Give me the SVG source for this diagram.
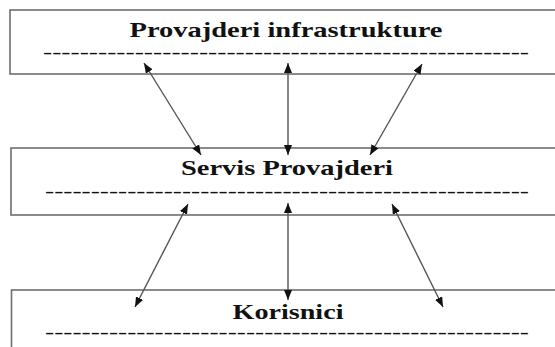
<svg xmlns="http://www.w3.org/2000/svg" width="555" height="347" viewBox="0 0 555 347">
  <style>
    .box { fill: #ffffff; stroke: #6e6e6e; stroke-width: 1.6; }
    .title { font-family: "Liberation Serif", "Times New Roman", serif; font-weight: bold; font-size: 21px; fill: #111111; text-anchor: middle; }
    .rule { font-family: "Liberation Serif", "Times New Roman", serif; font-weight: bold; font-size: 16px; fill: #111111; }
    .link { stroke: #555555; stroke-width: 1.4; fill: none; marker-start: url(#head); marker-end: url(#head); }
  </style>
  <defs>
    <marker id="head" viewBox="0 0 10 8" refX="10" refY="4" markerWidth="10" markerHeight="8" markerUnits="userSpaceOnUse" orient="auto-start-reverse">
      <path d="M0,0 L10,4 L0,8 z" fill="#111111"/>
    </marker>
  </defs>

  <rect width="555" height="347" fill="#ffffff"/>

  <g id="provajderi-infrastrukture">
    <rect class="box" x="10" y="10" width="560" height="64"/>
    <text class="title" x="286" y="37" textLength="313" lengthAdjust="spacingAndGlyphs">Provajderi infrastrukture</text>
    <text class="rule" x="43" y="57.5" textLength="486" lengthAdjust="spacingAndGlyphs">-----------------------------------------------------</text>
  </g>

  <g id="servis-provajderi">
    <rect class="box" x="11" y="148" width="560" height="67"/>
    <text class="title" x="287" y="175" textLength="212" lengthAdjust="spacingAndGlyphs">Servis Provajderi</text>
    <text class="rule" x="45" y="196.5" textLength="484" lengthAdjust="spacingAndGlyphs">-----------------------------------------------------</text>
  </g>

  <g id="korisnici">
    <rect class="box" x="11.5" y="290" width="560" height="70"/>
    <text class="title" x="288" y="319" textLength="111" lengthAdjust="spacingAndGlyphs">Korisnici</text>
    <text class="rule" x="45" y="337.5" textLength="484" lengthAdjust="spacingAndGlyphs">-----------------------------------------------------</text>
  </g>

  <g id="connectors">
    <line class="link" x1="144" y1="63" x2="201" y2="155"/>
    <line class="link" x1="288" y1="63" x2="288" y2="155"/>
    <line class="link" x1="422" y1="64" x2="370" y2="155"/>
    <line class="link" x1="188" y1="204" x2="135" y2="307"/>
    <line class="link" x1="288" y1="203" x2="288" y2="300"/>
    <line class="link" x1="392" y1="204" x2="443" y2="307"/>
  </g>
</svg>
